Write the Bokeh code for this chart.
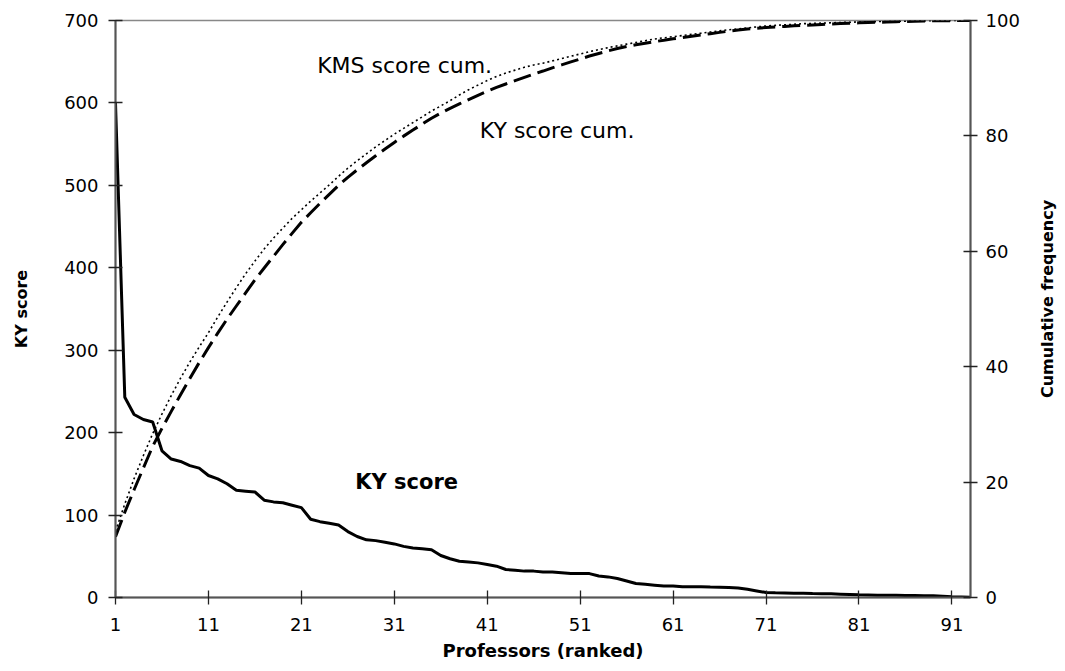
from bokeh.plotting import figure
from bokeh.layouts import row
from bokeh.models import Range1d, LinearAxis, FixedTicker
from bokeh.core.properties import value
from bokeh.embed import file_html
from bokeh.resources import INLINE

# ---- data ----
professors = list(range(1, 94))
ky_score = [600, 243, 222, 216, 213, 178, 168, 165, 160, 157,
            148, 144, 138, 130, 129, 128, 118, 116, 115, 112,
            109, 95, 92, 90, 88, 80, 74, 70, 69, 67,
            65, 62, 60, 59, 58, 51, 47, 44, 43, 42,
            40, 38, 34, 33, 32, 32, 31, 31, 30, 29,
            29, 29, 26, 25, 23, 20, 17, 16, 15, 14,
            14, 13, 13, 13, 12.6, 12.5, 12, 11.5, 10, 8,
            6, 5.7, 5.6, 5.3, 5.2, 4.8, 4.7, 4.4, 4, 3.6,
            3.2, 3.1, 2.8, 2.7, 2.6, 2.4, 2.3, 2.2, 2, 1.6,
            0.8, 0.6, 0.3]
ky_cum = [10.52, 14.78, 18.67, 22.46, 26.19, 29.31, 32.26, 35.15, 37.95, 40.70,
          43.30, 45.82, 48.24, 50.52, 52.78, 55.03, 57.10, 59.13, 61.15, 63.11,
          65.02, 66.68, 68.30, 69.87, 71.42, 72.82, 74.12, 75.34, 76.55, 77.73,
          78.87, 79.96, 81.01, 82.04, 83.06, 83.95, 84.78, 85.55, 86.30, 87.04,
          87.74, 88.40, 89.00, 89.58, 90.14, 90.70, 91.24, 91.79, 92.31, 92.82,
          93.33, 93.84, 94.29, 94.73, 95.14, 95.49, 95.78, 96.06, 96.33, 96.57,
          96.82, 97.05, 97.28, 97.50, 97.72, 97.94, 98.15, 98.35, 98.53, 98.67,
          98.78, 98.87, 98.97, 99.07, 99.16, 99.24, 99.32, 99.40, 99.47, 99.53,
          99.59, 99.64, 99.69, 99.74, 99.79, 99.83, 99.87, 99.91, 99.94, 99.97,
          99.98, 99.99, 100.0]
kms_cum = [11.5, 16.2, 20.6, 24.6, 28.4, 31.8, 35.0, 38.0, 40.8, 43.4,
           45.9, 48.6, 51.2, 53.7, 56.1, 58.3, 60.4, 62.3, 64.0, 65.7,
           67.2, 68.7, 70.1, 71.5, 73.0, 74.4, 75.7, 76.9, 78.1, 79.2,
           80.3, 81.3, 82.3, 83.3, 84.3, 85.2, 86.1, 87.1, 88.0, 88.8,
           89.6, 90.3, 90.9, 91.4, 91.9, 92.3, 92.6, 93.0, 93.4, 93.8,
           94.2, 94.6, 94.95, 95.3, 95.6, 95.9, 96.2, 96.5, 96.8, 97.0,
           97.2, 97.4, 97.6, 97.8, 98.0, 98.2, 98.4, 98.55, 98.7, 98.9,
           99.05, 99.15, 99.25, 99.35, 99.45, 99.5, 99.55, 99.6, 99.65, 99.7,
           99.74, 99.78, 99.81, 99.84, 99.87, 99.9, 99.92, 99.94, 99.96, 99.98,
           99.99, 100.0, 100.0]
x_ticks = [1, 11, 21, 31, 41, 51, 61, 71, 81, 91]
left_ticks = [0, 100, 200, 300, 400, 500, 600, 700]
right_ticks = [0, 20, 40, 60, 80, 100]

FONT = "DejaVu Sans"
AX = "#555555"

p = figure(width=1037, height=663, output_backend="svg", toolbar_location=None,
           x_range=Range1d(1, 93), y_range=Range1d(0, 700),
           min_border_left=115, min_border_right=67,
           min_border_top=20, min_border_bottom=65)
p.extra_y_ranges = {"cum": Range1d(0, 100)}
p.grid.visible = False
p.outline_line_color = "#888888"
p.outline_line_width = 1.5
p.background_fill_color = "white"
p.border_fill_color = "white"

def style_axis(ax, label, ticks):
    ax.ticker = FixedTicker(ticks=ticks)
    ax.minor_tick_line_color = None
    ax.major_tick_in = 7
    ax.major_tick_out = 7
    ax.major_tick_line_color = "#222222"
    ax.major_tick_line_width = 1.3
    ax.axis_line_color = AX
    ax.axis_line_width = 2
    ax.major_label_text_font = FONT
    ax.major_label_text_font_size = "18px"
    ax.major_label_text_color = "black"
    ax.axis_label = label
    ax.axis_label_text_font = FONT
    ax.axis_label_text_font_size = "16px"
    ax.axis_label_text_font_style = "bold"
    ax.axis_label_text_color = "black"

style_axis(p.xaxis[0], "Professors (ranked)", x_ticks)
p.xaxis[0].major_label_standoff = 13
p.xaxis[0].axis_label_standoff = 6
p.xaxis[0].axis_label_text_font_size = "18px"

style_axis(p.yaxis[0], "KY score", left_ticks)
p.yaxis[0].major_label_standoff = 10
p.yaxis[0].axis_label_standoff = 30

right = LinearAxis(y_range_name="cum")
style_axis(right, None, right_ticks)
right.major_label_standoff = 8
p.add_layout(right, "right")

p.line(professors, ky_score, line_color="black", line_width=3)
p.line(professors, ky_cum, y_range_name="cum", line_color="black",
       line_width=3, line_dash="18 7")
p.line(professors, kms_cum, y_range_name="cum", line_color="black",
       line_width=1.6, line_dash="2 3")

p.text(x=[22.7], y=[645], text=["KMS score cum."], text_font=value(FONT),
       text_font_size="22px", text_baseline="middle", text_align="left",
       text_color="black")
p.text(x=[40.2], y=[567], text=["KY score cum."], text_font=value(FONT),
       text_font_size="22px", text_baseline="middle", text_align="left",
       text_color="black")
p.text(x=[26.8], y=[140], text=["KY score"], text_font=value(FONT),
       text_font_size="21px", text_font_style="bold", text_baseline="middle",
       text_align="left", text_color="black")

# narrow strip on the right holding the right-axis title, reading upward
t = figure(width=20, height=663, output_backend="svg", toolbar_location=None,
           x_range=Range1d(0, 20), y_range=Range1d(0, 663),
           x_axis_type=None, y_axis_type=None,
           min_border_left=0, min_border_right=0,
           min_border_top=0, min_border_bottom=0)
t.outline_line_color = None
t.grid.visible = False
t.background_fill_color = "white"
t.border_fill_color = "white"
t.text(x=[10], y=[343], text=["Cumulative frequency"], angle=90,
       angle_units="deg", text_font=value(FONT), text_font_size="16px",
       text_font_style="bold", text_align="center", text_baseline="middle",
       text_color="black")

layout = row(p, t, spacing=0)
open("out.html", "w").write(file_html(layout, INLINE))
